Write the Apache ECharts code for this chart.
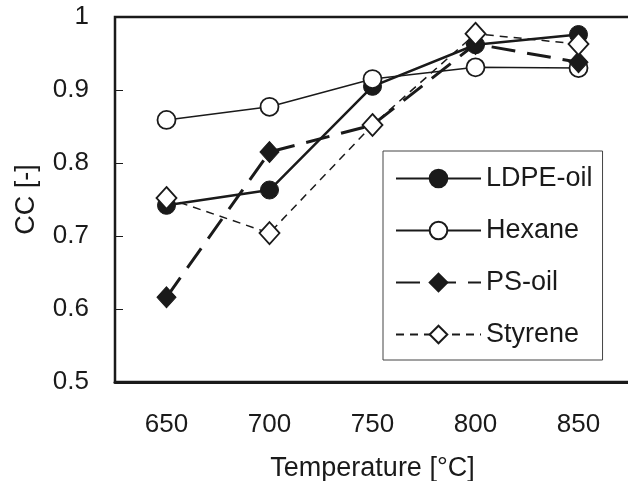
<!DOCTYPE html>
<html>
<head>
<meta charset="utf-8">
<script src="https://cdn.jsdelivr.net/npm/echarts@6/dist/echarts.min.js"></script>
<style>html,body{margin:0;padding:0;background:#fff}#c{width:628px;height:481px}</style>
</head>
<body>
<div id="c"></div>
<script>
const categories = ['650', '700', '750', '800', '850'];
const ldpeOil = [0.742, 0.763, 0.905, 0.962, 0.976];
const hexane = [0.859, 0.877, 0.915, 0.931, 0.930];
const psOil = [0.616, 0.815, 0.852, 0.963, 0.938];
const styrene = [0.752, 0.704, 0.852, 0.977, 0.963];
const yTicks = { min: 0.5, max: 1, interval: 0.1 };

const FONT = '"Liberation Sans", Arial, sans-serif';
const INK = '#1a1a1a';

const chart = echarts.init(document.getElementById('c'), null, { renderer: 'canvas' });
chart.setOption({
  backgroundColor: '#ffffff',
  animation: false,
  grid: {
    left: 115, top: 17, width: 515, height: 365,
    containLabel: false, outerBoundsMode: 'none',
    show: true, borderColor: INK, borderWidth: 2.5, backgroundColor: 'transparent'
  },
  xAxis: {
    type: 'category',
    data: categories,
    boundaryGap: true,
    name: 'Temperature [°C]',
    nameLocation: 'middle',
    nameGap: 73,
    nameTextStyle: { fontFamily: FONT, fontSize: 27, color: INK },
    axisLine: { lineStyle: { color: INK, width: 3 } },
    axisTick: { inside: true, length: 6, lineStyle: { color: INK, width: 1 } },
    axisLabel: { fontFamily: FONT, fontSize: 26, color: INK, margin: 30 },
    splitLine: { show: false }
  },
  yAxis: {
    type: 'value',
    min: yTicks.min,
    max: yTicks.max,
    interval: yTicks.interval,
    name: 'CC [-]',
    nameLocation: 'middle',
    nameGap: 75,
    nameTextStyle: { fontFamily: FONT, fontSize: 27, color: INK },
    axisLine: { show: true, lineStyle: { color: INK, width: 2 } },
    axisTick: { show: true, inside: true, length: 8, lineStyle: { color: INK, width: 1 } },
    axisLabel: { fontFamily: FONT, fontSize: 26, color: INK, margin: 26, padding: [8, 0, 0, 0] },
    splitLine: { show: false }
  },
  legend: {
    orient: 'vertical',
    left: 383,
    top: 151,
    itemWidth: 85,
    itemHeight: 22,
    itemGap: 25,
    padding: [14, 10, 12, 12],
    backgroundColor: '#ffffff',
    borderColor: '#444',
    borderWidth: 1,
    textStyle: { fontFamily: FONT, fontSize: 27, color: INK, lineHeight: 26 },
    data: ['LDPE-oil', 'Hexane', 'PS-oil', 'Styrene']
  },
  series: [
    {
      name: 'LDPE-oil', type: 'line', data: ldpeOil,
      symbol: 'circle', symbolSize: 18,
      lineStyle: { color: INK, width: 2.5, type: 'solid' },
      itemStyle: { color: INK, borderColor: INK, borderWidth: 1 }
    },
    {
      name: 'Hexane', type: 'line', data: hexane,
      symbol: 'circle', symbolSize: 18,
      lineStyle: { color: INK, width: 1.5, type: 'solid' },
      itemStyle: { color: '#ffffff', borderColor: INK, borderWidth: 1.8 }
    },
    {
      name: 'PS-oil', type: 'line', data: psOil,
      symbol: 'diamond', symbolSize: [19, 21],
      lineStyle: { color: INK, width: 3, type: [24, 12] },
      itemStyle: { color: INK, borderColor: INK, borderWidth: 1 }
    },
    {
      name: 'Styrene', type: 'line', data: styrene,
      symbol: 'diamond', symbolSize: [20, 22],
      lineStyle: { color: INK, width: 1.5, type: [8, 6] },
      itemStyle: { color: '#ffffff', borderColor: INK, borderWidth: 1.8 }
    }
  ]
});
</script>
</body>
</html>
